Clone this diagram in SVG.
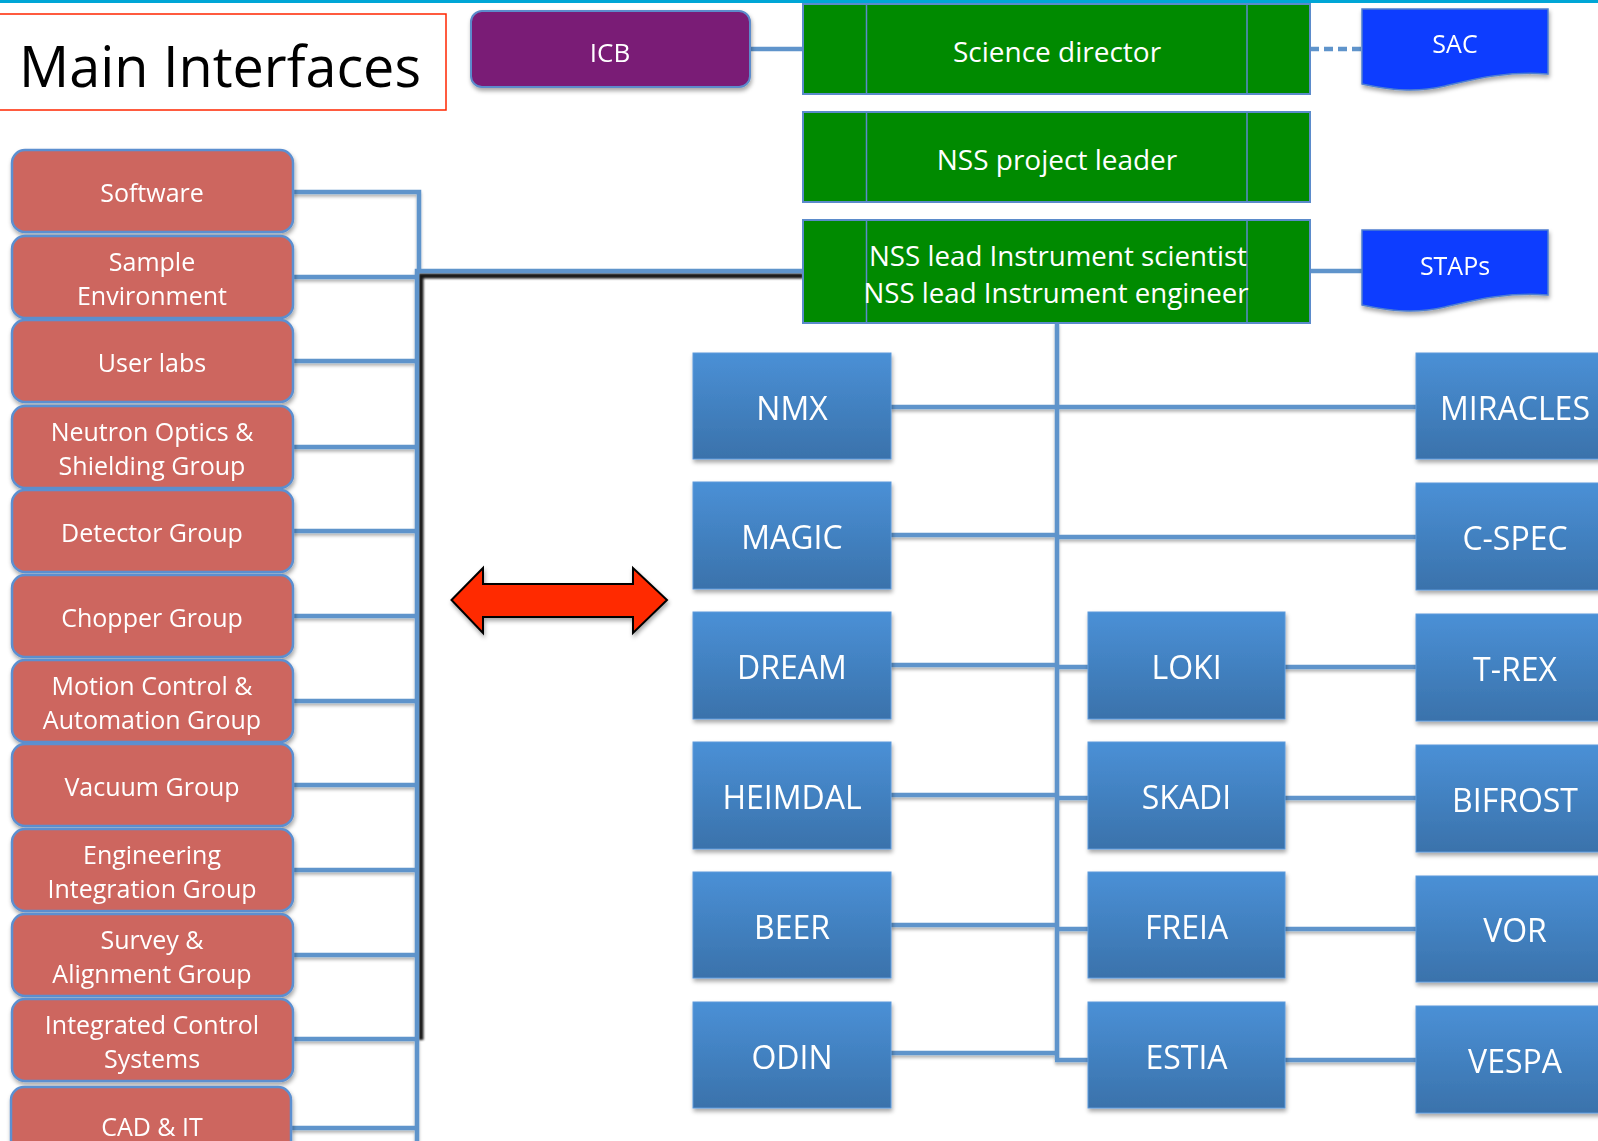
<svg xmlns="http://www.w3.org/2000/svg" width="1598" height="1141" viewBox="0 0 1598 1141">
<style>
text{font-family:"Open Sans","Liberation Sans",sans-serif;fill:#fff;text-anchor:middle}
.red{fill:#CD665F;stroke:#5B8FD0;stroke-width:2.5}
.grn{fill:#008A00;stroke:#5B8BCB;stroke-width:2}
.gl{stroke:#5B8BCB;stroke-width:1.5}
.doc{fill:#0A3CFF;stroke:#4F7FD0;stroke-width:1.5}
.ins{fill:url(#bg);stroke:#5D9ADB;stroke-width:1}
.rt{font-size:25px}
.it{font-size:32px}
.gt{font-size:28px}
.con{stroke:#5F94CB;stroke-width:4.5;fill:none}
</style>
<defs>
<linearGradient id="bg" x1="0" y1="0" x2="0" y2="1">
<stop offset="0" stop-color="#4A90D6"/>
<stop offset="1" stop-color="#3A72AB"/>
</linearGradient>
<filter id="sh" x="-10%" y="-10%" width="130%" height="140%">
<feDropShadow dx="1" dy="3" stdDeviation="2" flood-color="#000" flood-opacity="0.35"/>
</filter>
<filter id="ls" x="-5%" y="-50%" width="110%" height="300%">
<feDropShadow dx="0" dy="2.5" stdDeviation="1.5" flood-color="#000" flood-opacity="0.3"/>
</filter>
<filter id="bl" x="-20%" y="-20%" width="140%" height="140%">
<feGaussianBlur stdDeviation="0.8"/>
</filter>
</defs>
<rect x="0" y="0" width="1598" height="1141" fill="#fff"/>
<rect x="0" y="0" width="1598" height="3" fill="#00A6D6"/>

<g id="title">
<rect x="-2" y="14" width="448" height="96" fill="#fff" stroke="#FF2600" stroke-width="1.5"/>
<text x="19" y="87" style="fill:#000;text-anchor:start;font-size:56px" textLength="402" lengthAdjust="spacingAndGlyphs">Main Interfaces</text>
</g>

<g id="connectors">
<path d="M803 276 H421 V1040" stroke="#000" stroke-width="5" fill="none" filter="url(#bl)" opacity="0.9"/>
<g filter="url(#ls)">
<path class="con" d="M293 192 H419 V272"/>
<path class="con" d="M803 271 H417 V1141"/>
<path class="con" d="M293 277 H417 M293 361 H417 M293 447 H417 M293 531 H417 M293 616 H417 M293 701 H417 M293 785 H417 M293 870 H417 M293 955 H417 M293 1039 H417 M291 1128 H417"/>
</g>
<path class="con" d="M750 49 H803"/>
<path class="con" d="M1310 49 H1362" stroke-width="5" stroke-dasharray="9 5"/>
<path class="con" d="M1310 271 H1362"/>
<path d="M1052.5 324 V1053" stroke="#000" stroke-width="3" fill="none" filter="url(#bl)" opacity="0.85"/>
<path d="M1061 324 V1040" stroke="#000" stroke-width="1.5" fill="none" filter="url(#bl)" opacity="0.4"/>
<g filter="url(#ls)">
<path class="con" d="M1057 323 V1060"/>
<path class="con" d="M891 407 H1057 M1057 407 H1416"/>
<path class="con" d="M891 535 H1057 M1057 537 H1416"/>
<path class="con" d="M891 665 H1057 M1057 667 H1088 M1285 667 H1416"/>
<path class="con" d="M891 795 H1057 M1057 798 H1088 M1285 798 H1416"/>
<path class="con" d="M891 925 H1057 M1057 929 H1088 M1285 929 H1416"/>
<path class="con" d="M891 1053 H1057 M1055 1060 H1088 M1285 1060 H1416"/>
</g>
</g>

<g id="icb" filter="url(#sh)">
<rect x="471" y="11" width="279" height="76" rx="11" fill="#7A1A76" stroke="#5B8BCB" stroke-width="2"/>
<text x="610" y="62" style="font-size:26px">ICB</text>
</g>

<g id="science-director">
<rect class="grn" x="803" y="4" width="507" height="90"/>
<path class="gl" d="M866.5 4 V94 M1247 4 V94"/>
<text class="gt" x="1057" y="62">Science director</text>
</g>
<g id="nss-project-leader">
<rect class="grn" x="803" y="112" width="507" height="90"/>
<path class="gl" d="M866.5 112 V202 M1247 112 V202"/>
<text class="gt" x="1057" y="170">NSS project leader</text>
</g>
<g id="nss-lead">
<rect class="grn" x="803" y="220" width="507" height="103"/>
<path class="gl" d="M866.5 220 V323 M1247 220 V323"/>
<text class="gt" x="1058" y="266" textLength="378" lengthAdjust="spacingAndGlyphs">NSS lead Instrument scientist</text>
<text class="gt" x="1056" y="303" textLength="385" lengthAdjust="spacingAndGlyphs">NSS lead Instrument engineer</text>
</g>

<g id="sac" filter="url(#sh)">
<path class="doc" d="M1362 9 H1548 V74 C1505 71 1475 79 1445 86 C1415 93 1390 90 1362 84 Z"/>
<text x="1455" y="53" style="font-size:25px">SAC</text>
</g>
<g id="staps" filter="url(#sh)">
<path class="doc" d="M1362 230 H1548 V295 C1505 292 1475 300 1445 307 C1415 314 1390 311 1362 305 Z"/>
<text x="1455" y="275" style="font-size:25px">STAPs</text>
</g>

<g id="software" filter="url(#sh)"><rect class="red" x="12" y="150" width="281" height="82" rx="13"/><text class="rt" x="152" y="202">Software</text></g>
<g id="sample-environment" filter="url(#sh)"><rect class="red" x="12" y="236" width="281" height="82" rx="13"/><text class="rt" x="152" y="271">Sample</text><text class="rt" x="152" y="305">Environment</text></g>
<g id="user-labs" filter="url(#sh)"><rect class="red" x="12" y="320" width="281" height="82" rx="13"/><text class="rt" x="152" y="372">User labs</text></g>
<g id="neutron-optics" filter="url(#sh)"><rect class="red" x="12" y="406" width="281" height="82" rx="13"/><text class="rt" x="152" y="441">Neutron Optics &amp;</text><text class="rt" x="152" y="475">Shielding Group</text></g>
<g id="detector-group" filter="url(#sh)"><rect class="red" x="12" y="490" width="281" height="82" rx="13"/><text class="rt" x="152" y="542">Detector Group</text></g>
<g id="chopper-group" filter="url(#sh)"><rect class="red" x="12" y="575" width="281" height="82" rx="13"/><text class="rt" x="152" y="627">Chopper Group</text></g>
<g id="motion-control" filter="url(#sh)"><rect class="red" x="12" y="660" width="281" height="82" rx="13"/><text class="rt" x="152" y="695">Motion Control &amp;</text><text class="rt" x="152" y="729">Automation Group</text></g>
<g id="vacuum-group" filter="url(#sh)"><rect class="red" x="12" y="744" width="281" height="82" rx="13"/><text class="rt" x="152" y="796">Vacuum Group</text></g>
<g id="engineering-integration" filter="url(#sh)"><rect class="red" x="12" y="829" width="281" height="82" rx="13"/><text class="rt" x="152" y="864">Engineering</text><text class="rt" x="152" y="898">Integration Group</text></g>
<g id="survey-alignment" filter="url(#sh)"><rect class="red" x="12" y="914" width="281" height="82" rx="13"/><text class="rt" x="152" y="949">Survey &amp;</text><text class="rt" x="152" y="983">Alignment Group</text></g>
<g id="integrated-control" filter="url(#sh)"><rect class="red" x="12" y="999" width="281" height="82" rx="13"/><text class="rt" x="152" y="1034">Integrated Control</text><text class="rt" x="152" y="1068">Systems</text></g>
<g id="cad-it" filter="url(#sh)"><rect class="red" x="11" y="1087" width="280" height="82" rx="13"/><text class="rt" x="152" y="1136">CAD &amp; IT</text></g>

<g id="arrow" filter="url(#sh)">
<path d="M451.5 600 L483 568 V584 H633 V568 L667 600 L633 633 V617 H483 V633 Z" fill="#FF2A00" stroke="#000" stroke-width="2" stroke-linejoin="miter"/>
</g>

<g id="nmx" filter="url(#sh)"><rect class="ins" x="693" y="353" width="198" height="106"/><text class="it" x="792" y="420">NMX</text></g>
<g id="magic" filter="url(#sh)"><rect class="ins" x="693" y="482" width="198" height="107"/><text class="it" x="792" y="549">MAGIC</text></g>
<g id="dream" filter="url(#sh)"><rect class="ins" x="693" y="612" width="198" height="107"/><text class="it" x="792" y="679">DREAM</text></g>
<g id="heimdal" filter="url(#sh)"><rect class="ins" x="693" y="742" width="198" height="107"/><text class="it" x="792" y="809">HEIMDAL</text></g>
<g id="beer" filter="url(#sh)"><rect class="ins" x="693" y="872" width="198" height="106"/><text class="it" x="792" y="939">BEER</text></g>
<g id="odin" filter="url(#sh)"><rect class="ins" x="693" y="1002" width="198" height="106"/><text class="it" x="792" y="1069">ODIN</text></g>

<g id="loki" filter="url(#sh)"><rect class="ins" x="1088" y="612" width="197" height="107"/><text class="it" x="1186.5" y="679">LOKI</text></g>
<g id="skadi" filter="url(#sh)"><rect class="ins" x="1088" y="742" width="197" height="107"/><text class="it" x="1186.5" y="809">SKADI</text></g>
<g id="freia" filter="url(#sh)"><rect class="ins" x="1088" y="872" width="197" height="106"/><text class="it" x="1186.5" y="939">FREIA</text></g>
<g id="estia" filter="url(#sh)"><rect class="ins" x="1088" y="1002" width="197" height="106"/><text class="it" x="1186.5" y="1069">ESTIA</text></g>

<g id="miracles" filter="url(#sh)"><rect class="ins" x="1416" y="353" width="198" height="106"/><text class="it" x="1515" y="420">MIRACLES</text></g>
<g id="c-spec" filter="url(#sh)"><rect class="ins" x="1416" y="483" width="198" height="107"/><text class="it" x="1515" y="550">C-SPEC</text></g>
<g id="t-rex" filter="url(#sh)"><rect class="ins" x="1416" y="614" width="198" height="107"/><text class="it" x="1515" y="681">T-REX</text></g>
<g id="bifrost" filter="url(#sh)"><rect class="ins" x="1416" y="745" width="198" height="107"/><text class="it" x="1515" y="812">BIFROST</text></g>
<g id="vor" filter="url(#sh)"><rect class="ins" x="1416" y="876" width="198" height="106"/><text class="it" x="1515" y="942">VOR</text></g>
<g id="vespa" filter="url(#sh)"><rect class="ins" x="1416" y="1006" width="198" height="107"/><text class="it" x="1515" y="1073">VESPA</text></g>
</svg>
